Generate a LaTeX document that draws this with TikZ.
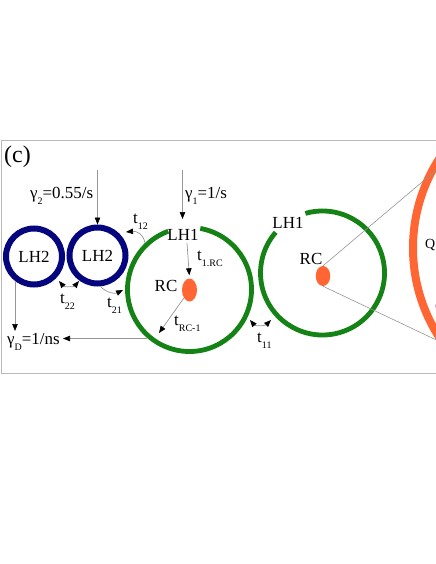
\documentclass[tikz,border=0pt]{standalone}
\usepackage{fontspec}
\setmainfont{Liberation Serif}
\usetikzlibrary{arrows.meta,shapes.geometric}
\definecolor{lhnavy}{RGB}{5,5,125}
\definecolor{lhgreen}{RGB}{20,130,20}
\definecolor{rcorange}{RGB}{255,102,51}
\definecolor{linegray}{RGB}{150,150,150}
\definecolor{framegray}{RGB}{185,185,185}
\definecolor{pinkmark}{RGB}{220,160,195}
\newcommand\lowidx[1]{\raisebox{-0.38em}{\fontsize{10}{10}\selectfont #1}}
\begin{document}
\begin{tikzpicture}[x=1bp,y=-1bp,
  lab/.style={inner sep=0pt, font=\fontsize{17}{17}\selectfont},
  lhtwo/.style={circle, draw=lhnavy, line width=6bp, minimum size=56bp, inner sep=0pt, font=\fontsize{17}{17}\selectfont},
  rcdot/.style={ellipse, fill=rcorange, inner sep=0pt},
  ring/.style={draw=lhgreen, line width=4.8bp},
  conn/.style={draw=linegray, line width=0.7bp, -{Triangle[length=7bp,width=5.5bp,color=black]}},
  dconn/.style={draw=linegray, line width=0.7bp, {Triangle[length=7bp,width=5.5bp,color=black]}-{Triangle[length=7bp,width=5.5bp,color=black]}},
  thin/.style={draw=linegray, line width=0.6bp},
]
\useasboundingbox (0,0) rectangle (436,564);
\clip (0,0) rectangle (436,564);
% frame
\draw[framegray, line width=1bp] (1.5,141) rectangle (445,373);
% big orange circle (cut off)
\coordinate (qc) at (578,248);
\draw[rcorange, line width=8bp] (qc) circle[radius=165];
\node[inner sep=0pt, font=\fontsize{14}{14}\selectfont, anchor=base east] (qlab) at (435.5,248) {Q};
\fill[pinkmark] (439,306) circle[radius=4];
% green rings
\coordinate (g1) at (189.5,289.5);
\draw[ring] ([shift={(-80:62)}]g1) arc[start angle=-80, end angle=250, radius=62];
\coordinate (g2) at (322.5,273);
\draw[ring] ([shift={(-106:62)}]g2) arc[start angle=-106, end angle=221, radius=62];
% RC dots
\node[rcdot, minimum width=15bp, minimum height=23bp] (rc1) at (189.5,290) {};
\node[rcdot, minimum width=14.5bp, minimum height=20bp] (rc2) at (323,276) {};
% LH2 rings
\node[lhtwo] (lh2a) at (34,256.5) {LH2};
\node[lhtwo] (lh2b) at (97.5,255.5) {LH2};
% labels
\node[lab] (lh1a) at (183,235) {LH1};
\node[lab] (lh1b) at (288,222.5) {LH1};
\node[lab] (rc1l) at (166,286) {RC};
\node[lab] (rc2l) at (311,259) {RC};
\node[inner sep=0pt, font=\fontsize{24}{24}\selectfont, anchor=base west] (plab) at (4,163) {(c)};
\node[lab, anchor=base west] (g2l) at (30,198.5) {γ\lowidx{2}=0.55/s};
\node[lab, anchor=base west] (g1l) at (185,198) {γ\lowidx{1}=1/s};
\node[lab, anchor=base west] (gdl) at (7,344) {γ\lowidx{D}=1/ns};
\node[lab, anchor=base west] (t12) at (133,223) {t\lowidx{12}};
\node[lab, anchor=base west] (t22) at (60,303) {t\lowidx{22}};
\node[lab, anchor=base west] (t21) at (107,307) {t\lowidx{21}};
\node[lab, anchor=base west] (t1rc) at (197,260) {t\lowidx{1.RC}};
\node[lab, anchor=base west] (trc) at (174,325) {t\lowidx{RC-1}};
\node[lab, anchor=base west] (t11) at (257,342) {t\lowidx{11}};
% connector end points
\coordinate (g2src) at (97.5,170);
\coordinate (g1src) at (182.5,170);
\coordinate (g1tip) at (182.5,219);
\coordinate (t1s) at (187,243);
\coordinate (trctip) at (159,333);
\coordinate (gdsrc) at (147,338.5);
\coordinate (gdtip) at (63,338.5);
\coordinate (gdvs) at (15,281);
\coordinate (gdvt) at (15,331);
\coordinate (t12s) at (145,243);
\coordinate (t12t) at (126,232);
\coordinate (t21s) at (101,287);
\coordinate (t21t) at (123,290);
\coordinate (t22a) at (59,281);
\coordinate (t22b) at (79,281);
\coordinate (t11a) at (250,320);
\coordinate (t11b) at (271,320);
\coordinate (qt) at (450,158.4);
\coordinate (qb) at (450,346.5);
% connectors
\draw[conn] (g2src) -- (lh2b.north);
\draw[conn] (g1src) -- (g1tip);
\draw[conn, shorten >=3bp] (t1s) -- (rc1.north);
\draw[conn] (rc1.235) -- (trctip);
\draw[conn] (gdsrc) -- (gdtip);
\draw[conn] (gdvs) -- (gdvt);
\draw[conn] (t12s) .. controls (143,233) and (136,231) .. (t12t);
\draw[conn] (t21s) .. controls (107,293) and (115,294) .. (t21t);
\draw[dconn] (t22a) .. controls (64,287) and (74,287) .. (t22b);
\draw[dconn] (t11a) .. controls (255,326) and (265,326) .. (t11b);
\draw[thin] (rc2.north) -- (qt);
\draw[thin] (rc2.south) -- (qb);
\end{tikzpicture}
\end{document}
